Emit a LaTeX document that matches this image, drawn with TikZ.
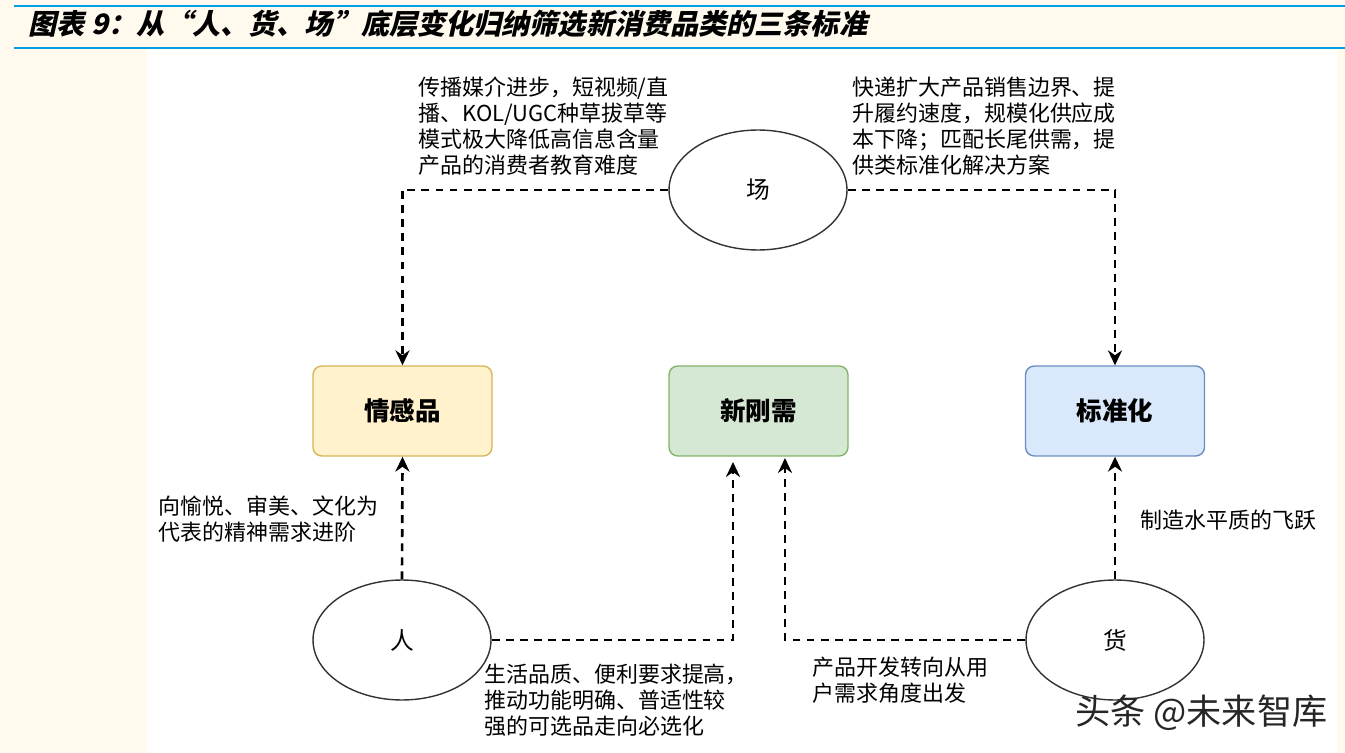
\documentclass[tikz,border=0pt]{standalone}
\usepackage{fontspec}
\setmainfont{Noto Sans CJK SC}
\newfontfamily\titlefont{Noto Sans CJK SC}[FakeSlant=0.22]
\usepackage{xcolor}
\usepackage{tikz}
\usetikzlibrary{arrows.meta,positioning,shapes.geometric}
\definecolor{pagebg}{HTML}{FFF9EE}
\definecolor{rulecol}{HTML}{00A0E9}
\definecolor{qingfill}{HTML}{FFF2CC}
\definecolor{qingline}{HTML}{D6B656}
\definecolor{xinfill}{HTML}{D5E8D4}
\definecolor{xinline}{HTML}{82B366}
\definecolor{biaofill}{HTML}{DAE8FC}
\definecolor{biaoline}{HTML}{6C8EBF}
\tikzset{
  scene/.style={draw=black!80,ellipse,line width=0.8pt,fill=white,minimum width=3.56cm,minimum height=2.4cm,inner sep=0pt,font=\fontsize{13.5}{16}\selectfont},
  catbox/.style={draw,rounded corners=5pt,line width=0.8pt,minimum width=3.58cm,minimum height=1.8cm,font=\bfseries\fontsize{14.5}{17}\selectfont},
  note/.style={align=left,anchor=north west,inner sep=0pt,font=\fontsize{12.5}{14.7}\selectfont},
  darr/.style={-{Stealth[length=8.5pt,width=8pt]},line width=1.5pt,dash pattern=on 4.5pt off 3.5pt}
}
\begin{document}
\begin{tikzpicture}[x=0.02cm,y=-0.02cm]
  %% page background, rules and title
  \fill[pagebg] (0,0) rectangle (1345,753);
  \useasboundingbox (0,0) rectangle (1345,753);
  \fill[white] (147,50) rectangle (1337,753);
  \draw[rulecol,line width=1.2pt] (14,6) -- (1345,6);
  \draw[rulecol,line width=0.9pt] (14,48) -- (1345,48);
  \node[anchor=west,inner sep=0pt,font=\titlefont\bfseries\fontsize{16}{18}\selectfont] (title) at (28,24) {图表 9：从“人、货、场”底层变化归纳筛选新消费品类的三条标准};

  %% 人、货、场 and the three categories
  \node[scene] (chang) at (758,190) {场};
  \node[scene] (ren) at (402,640) {人};
  \node[scene] (huo) at (1115,640) {货};
  \node[catbox,fill=qingfill,draw=qingline] (qing) at (402.5,411) {情感品};
  \node[catbox,fill=xinfill,draw=xinline] (xin) at (758.5,411) {新刚需};
  \node[catbox,fill=biaofill,draw=biaoline] (biao) at (1115,411) {标准化};

  \coordinate (xinL) at (733,462);
  \coordinate (xinR) at (785,458);
  \draw[darr] (chang.west) -| (qing.north);
  \draw[darr] (chang.east) -| (biao.north);
  \draw[darr] (ren.north) -- (qing.south);
  \draw[darr] (huo.north) -- (biao.south);
  \draw[darr] (ren.east) -| (xinL);
  \draw[darr] (huo.west) -| (xinR);

  %% notes
  \node[note] (n1) at (418,77) {传播媒介进步，短视频/直\\播、KOL/UGC种草拔草等\\模式极大降低高信息含量\\产品的消费者教育难度};
  \node[note] (n2) at (852,77) {快递扩大产品销售边界、提\\升履约速度，规模化供应成\\本下降；匹配长尾供需，提\\供类标准化解决方案};
  \node[note] (n3) at (158,496) {向愉悦、审美、文化为\\代表的精神需求进阶};
  \node[note] (n4) at (1140,510) {制造水平质的飞跃};
  \node[note] (n5) at (484,664) {生活品质、便利要求提高，\\推动功能明确、普适性较\\强的可选品走向必选化};
  \node[note] (n6) at (812,657) {产品开发转向从用\\户需求角度出发};
  \node[anchor=west,inner sep=0pt,text=black!85,font=\fontsize{20}{22}\selectfont] (mark) at (1075,713) {头条 @未来智库};
\end{tikzpicture}
\end{document}
